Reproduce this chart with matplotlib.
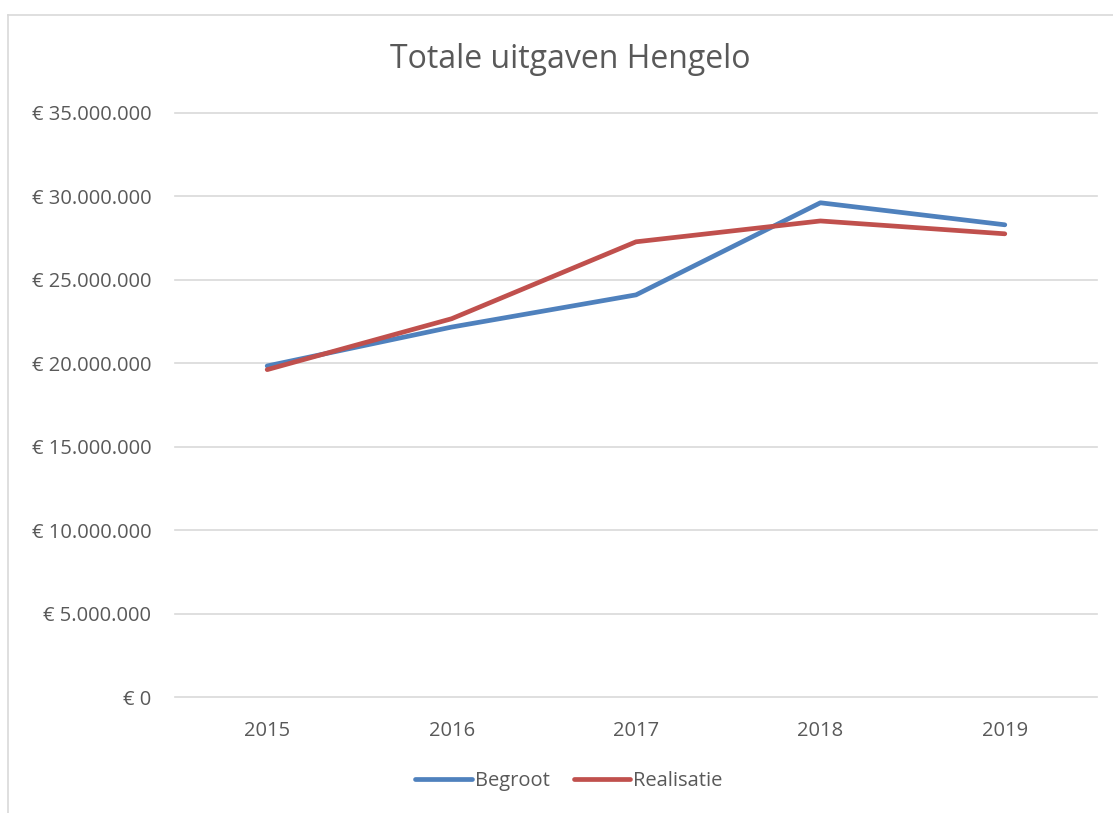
import numpy as np
import matplotlib.pyplot as plt
from matplotlib.lines import Line2D
from matplotlib.ticker import FuncFormatter

years = ["2015", "2016", "2017", "2018", "2019"]
begroot = [19.84e6, 22.17e6, 24.10e6, 29.62e6, 28.30e6]
realisatie = [19.62e6, 22.67e6, 27.28e6, 28.53e6, 27.76e6]

plt.rcParams["font.family"] = ["Open Sans", "DejaVu Sans"]
txt = "#595959"

fig = plt.figure(figsize=(11.13, 8.13), dpi=100)
ax = fig.add_axes([175 / 1113, 1 - 697 / 813, (1097 - 175) / 1113, (697 - 113) / 813])

x = np.arange(len(years))
ax.plot(x, begroot, color="#4F81BD", lw=3.4, solid_capstyle="round", label="Begroot")
ax.plot(x, realisatie, color="#C0504D", lw=3.4, solid_capstyle="round", label="Realisatie")

ax.set_xlim(-0.5, len(years) - 0.5)
ax.set_ylim(0, 35e6)
ax.set_yticks(np.arange(0, 35e6 + 1, 5e6))
ax.yaxis.set_major_formatter(FuncFormatter(lambda v, p: "€ " + f"{int(v):,}".replace(",", ".")))
ax.set_xticks(x)
ax.set_xticklabels(years)
ax.tick_params(length=0, labelsize=14.5, labelcolor=txt)
ax.tick_params(axis="y", pad=17)
ax.tick_params(axis="x", pad=17)
ax.grid(axis="y", color="#d9d9d9", lw=1.2)
ax.set_axisbelow(True)
for g in ax.yaxis.get_gridlines():
    g.set_clip_on(False)
for s in ax.spines.values():
    s.set_visible(False)

fig.text(0.512, 1 - 60 / 813, "Totale uitgaven Hengelo", ha="center", va="center",
         fontsize=23, color=txt)

leg = fig.legend(loc="center", bbox_to_anchor=(0.511, 1 - 781 / 813), ncol=2, frameon=False,
                 fontsize=14.5, handlelength=2.8, handletextpad=0.15, columnspacing=1.2)
for t in leg.get_texts():
    t.set_color(txt)

# chart-area border (top and left visible)
fig.add_artist(Line2D([8 / 1113, 8 / 1113], [0, 1 - 15 / 813], color="#d9d9d9", lw=1.2))
fig.add_artist(Line2D([8 / 1113, 1], [1 - 15 / 813, 1 - 15 / 813], color="#d9d9d9", lw=1.2))

fig.savefig("out.png", dpi=100)
